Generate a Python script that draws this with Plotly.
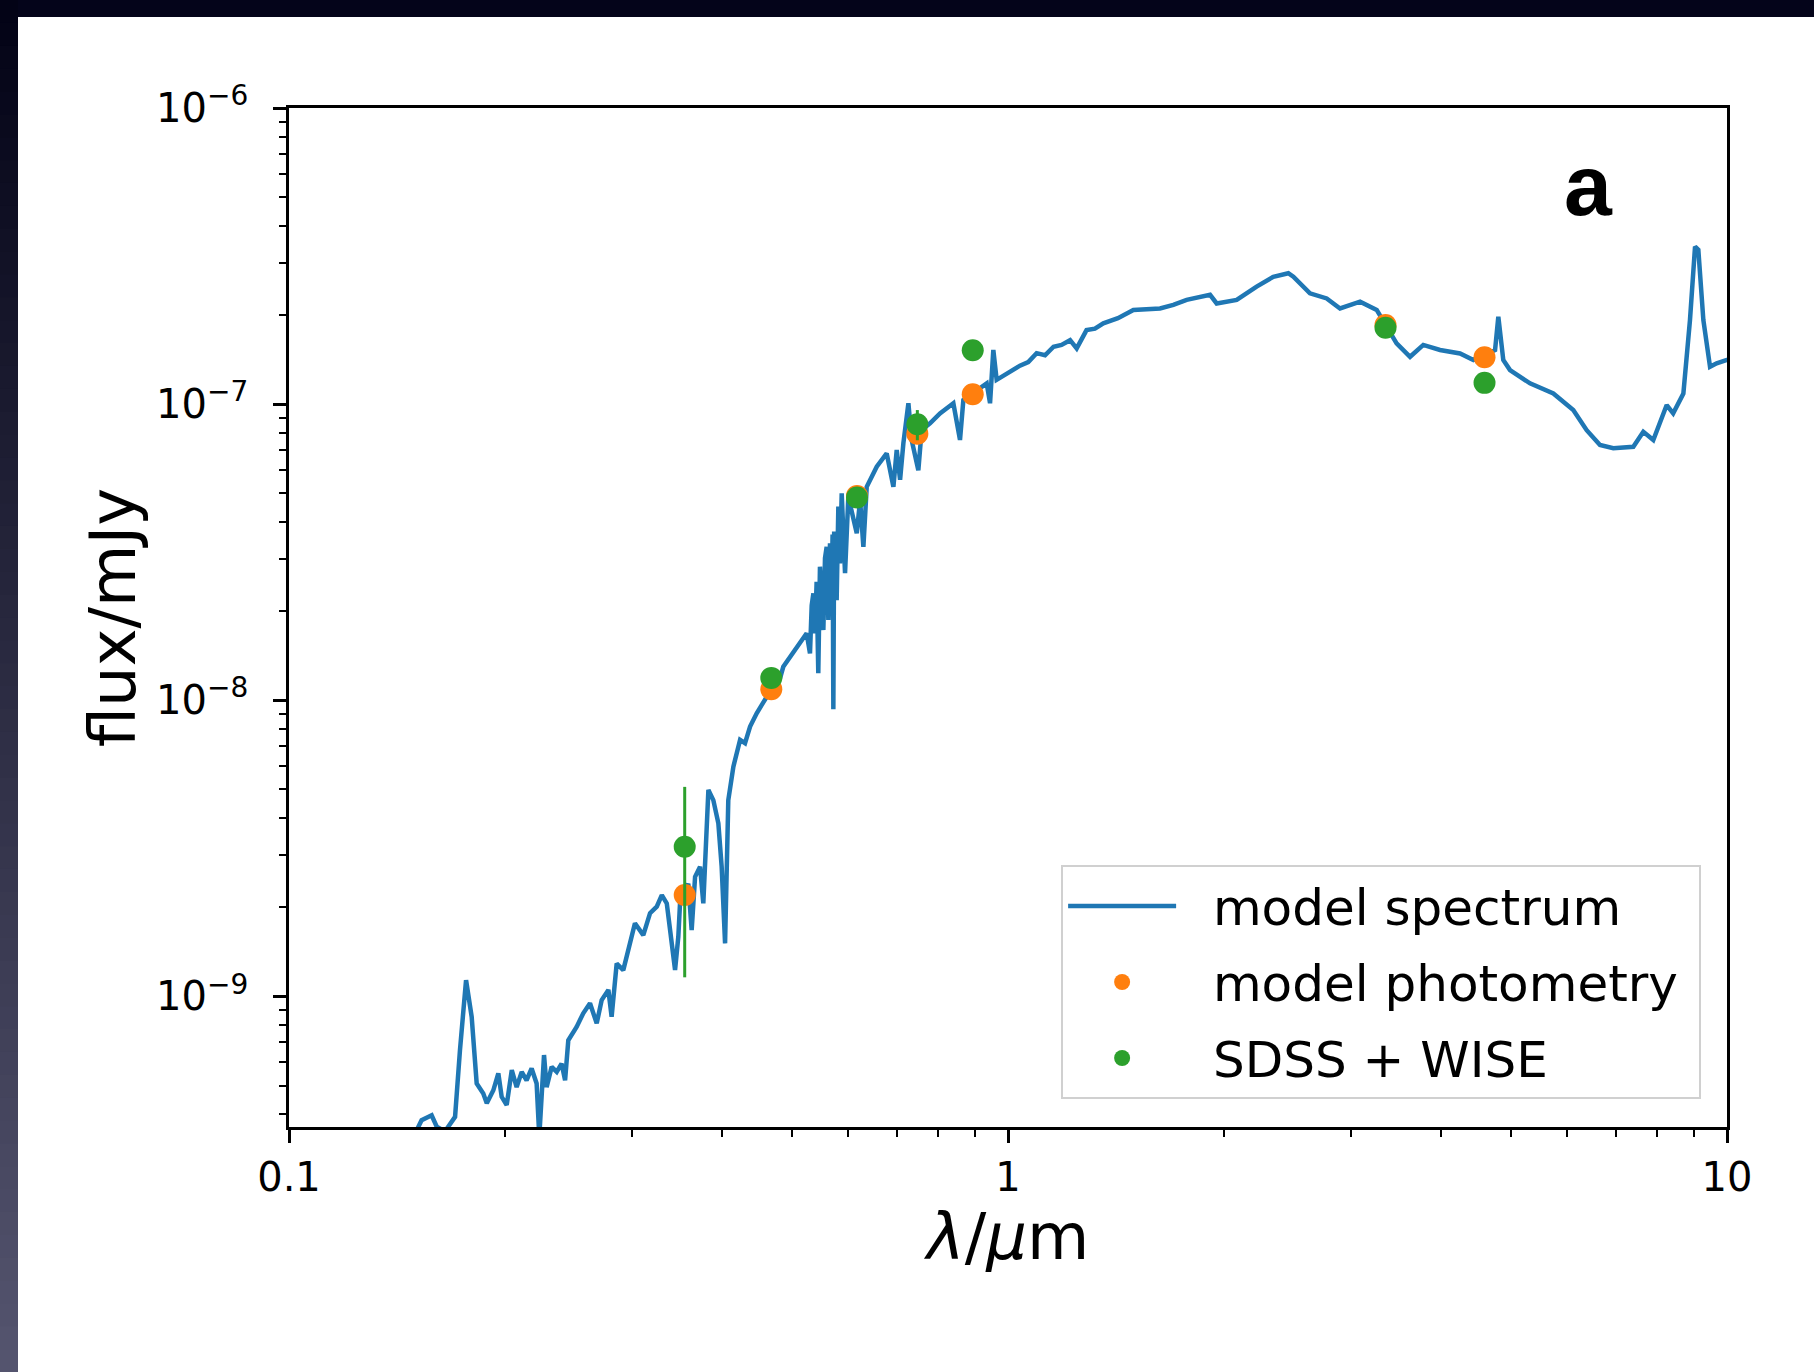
import plotly.graph_objects as go

# ---------------- data ----------------
spec_wavelength = [
    0.1505, 0.1529, 0.1579, 0.1605, 0.1648, 0.1702, 0.1729, 0.1763, 0.1795, 0.1824,
    0.1863, 0.1884, 0.1924, 0.1955, 0.1976, 0.2008, 0.2041, 0.2073, 0.2107, 0.2140,
    0.2175, 0.2210, 0.2229, 0.2245, 0.2263, 0.2282, 0.2319, 0.2357, 0.2394, 0.2421,
    0.2446, 0.2512, 0.2566, 0.2622, 0.2679, 0.2722, 0.2781, 0.2810, 0.2856, 0.2917,
    0.2964, 0.3028, 0.3110, 0.3178, 0.3247, 0.3300, 0.3353, 0.3407, 0.3443, 0.3479,
    0.3498, 0.3592, 0.3631, 0.3671, 0.3730, 0.3769, 0.3831, 0.3892, 0.3955, 0.3997,
    0.4041, 0.4083, 0.4150, 0.4240, 0.4308, 0.4378, 0.4472, 0.4618, 0.4819, 0.4869,
    0.5082, 0.5248, 0.5304, 0.5333, 0.5362, 0.5390, 0.5418, 0.5447, 0.5476, 0.5507,
    0.5536, 0.5565, 0.5595, 0.5625, 0.5655, 0.5686, 0.5702, 0.5716, 0.5731, 0.5747,
    0.5777, 0.5808, 0.5839, 0.5871, 0.5934, 0.5997, 0.6161, 0.6227, 0.6293, 0.6361,
    0.6568, 0.6781, 0.6928, 0.7002, 0.7078, 0.7153, 0.7269, 0.7345, 0.7504, 0.7584,
    0.7790, 0.8043, 0.8395, 0.8575, 0.8668, 0.9045, 0.9340, 0.9441, 0.9541, 0.9643,
    1.0065, 1.039, 1.067, 1.096, 1.126, 1.157, 1.187, 1.220, 1.246, 1.286,
    1.321, 1.357, 1.422, 1.494, 1.627, 1.698, 1.772, 1.910, 1.951, 2.080,
    2.217, 2.339, 2.454, 2.494, 2.630, 2.775, 2.896, 3.088, 3.257, 3.344,
    3.471, 3.624, 3.781, 3.989, 4.253, 4.439, 4.758, 4.808, 4.885, 4.991,
    5.321, 5.734, 6.112, 6.380, 6.658, 6.948, 7.408, 7.649, 7.898, 8.244,
    8.417, 8.696, 8.882, 9.027, 9.123, 9.271, 9.471, 9.674, 9.99, 10.7,
]
spec_flux = [
    3.53e-10, 3.82e-10, 3.97e-10, 3.63e-10, 3.50e-10, 3.92e-10, 6.59e-10, 1.135e-9, 8.53e-10, 5.08e-10,
    4.70e-10, 4.36e-10, 4.82e-10, 5.50e-10, 4.58e-10, 4.30e-10, 5.64e-10, 4.94e-10, 5.56e-10, 5.21e-10,
    5.71e-10, 5.08e-10, 3.36e-10, 4.70e-10, 6.34e-10, 4.94e-10, 5.78e-10, 5.56e-10, 5.93e-10, 5.21e-10,
    7.11e-10, 7.89e-10, 8.77e-10, 9.48e-10, 8.11e-10, 9.72e-10, 1.052e-9, 8.53e-10, 1.291e-9, 1.227e-9,
    1.432e-9, 1.766e-9, 1.611e-9, 1.910e-9, 2.009e-9, 2.198e-9, 2.061e-9, 1.510e-9, 1.227e-9, 1.589e-9,
    2.061e-9, 2.404e-9, 1.675e-9, 2.535e-9, 2.742e-9, 2.061e-9, 4.98e-9, 4.60e-9, 3.84e-9, 2.742e-9,
    1.510e-9, 4.60e-9, 5.97e-9, 7.35e-9, 7.16e-9, 8.15e-9, 9.04e-9, 1.028e-8, 1.186e-8, 1.297e-8,
    1.517e-8, 1.683e-8, 1.439e-8, 2.089e-8, 2.296e-8, 1.683e-8, 2.512e-8, 1.233e-8, 2.825e-8, 1.995e-8,
    1.726e-8, 3.020e-8, 3.296e-8, 1.866e-8, 3.388e-8, 2.399e-8, 3.631e-8, 9.33e-9, 3.715e-8, 2.512e-8,
    2.178e-8, 4.508e-8, 2.897e-8, 5.000e-8, 2.685e-8, 4.864e-8, 3.664e-8, 4.742e-8, 3.296e-8, 5.26e-8,
    6.15e-8, 6.82e-8, 5.26e-8, 7.00e-8, 5.55e-8, 7.38e-8, 1.007e-7, 7.57e-8, 5.98e-8, 8.18e-8,
    8.61e-8, 9.31e-8, 1.007e-7, 7.57e-8, 1.033e-7, 1.117e-7, 1.175e-7, 1.007e-7, 1.524e-7, 1.208e-7,
    1.288e-7, 1.349e-7, 1.387e-7, 1.486e-7, 1.462e-7, 1.563e-7, 1.585e-7, 1.644e-7, 1.542e-7, 1.778e-7,
    1.799e-7, 1.875e-7, 1.950e-7, 2.080e-7, 2.104e-7, 2.163e-7, 2.249e-7, 2.339e-7, 2.188e-7, 2.249e-7,
    2.495e-7, 2.692e-7, 2.767e-7, 2.692e-7, 2.366e-7, 2.275e-7, 2.104e-7, 2.218e-7, 2.080e-7, 1.862e-7,
    1.603e-7, 1.445e-7, 1.585e-7, 1.524e-7, 1.483e-7, 1.409e-7, 1.524e-7, 1.972e-7, 1.409e-7, 1.303e-7,
    1.175e-7, 1.086e-7, 9.55e-8, 8.17e-8, 7.28e-8, 7.10e-8, 7.18e-8, 8.07e-8, 7.57e-8, 9.93e-8,
    9.31e-8, 1.086e-7, 1.923e-7, 3.404e-7, 3.319e-7, 1.923e-7, 1.337e-7, 1.374e-7, 1.409e-7, 1.41e-7,
]

band_wavelength = [0.3551, 0.4686, 0.6166, 0.7480, 0.8932, 3.35, 4.60]
model_phot_flux = [2.20e-9, 1.09e-8, 4.90e-8, 7.95e-8, 1.08e-7, 1.85e-7, 1.44e-7]
obs_flux = [3.20e-9, 1.19e-8, 4.84e-8, 8.55e-8, 1.52e-7, 1.81e-7, 1.18e-7]
obs_err_plus = [1.90e-9, 6.0e-10, 2.0e-9, 1.0e-8, 4.0e-9, 4.0e-9, 4.0e-9]
obs_err_minus = [2.04e-9, 6.0e-10, 2.0e-9, 1.0e-8, 4.0e-9, 4.0e-9, 4.0e-9]

series_names = ["model spectrum", "model photometry", "SDSS + WISE"]
x_tick_vals = [0.1, 1, 10]
x_tick_text = ["0.1", "1", "10"]
y_tick_vals = [1e-9, 1e-8, 1e-7, 1e-6]
y_tick_text = ["10<sup>−9</sup>", "10<sup>−8</sup>", "10<sup>−7</sup>", "10<sup>−6</sup>"]
x_minor_vals = [0.2, 0.3, 0.4, 0.5, 0.6, 0.7, 0.8, 0.9, 2, 3, 4, 5, 6, 7, 8, 9]
y_minor_vals = [m * d for d in (1e-10, 1e-9, 1e-8, 1e-7) for m in range(2, 10)]

BLUE, ORANGE, GREEN = "#1f77b4", "#ff7f0e", "#2ca02c"
FONT = "DejaVu Sans"
PAD = "\u00a0\u00a0"
TAIL = "\u00a0"

fig = go.Figure()
fig.add_trace(go.Scatter(
    x=spec_wavelength, y=spec_flux, mode="lines", name=PAD + series_names[0] + TAIL,
    legendgroup="g1", line=dict(color=BLUE, width=4.5),
))
fig.add_trace(go.Scatter(
    x=band_wavelength, y=model_phot_flux, mode="markers", name=PAD + series_names[1] + TAIL,
    legendgroup="g2", marker=dict(color=ORANGE, size=22, line=dict(width=0)),
))
fig.add_trace(go.Scatter(
    x=band_wavelength, y=obs_flux, mode="markers", name=PAD + series_names[2] + TAIL,
    legendgroup="g3", marker=dict(color=GREEN, size=22, line=dict(width=0)),
    error_y=dict(type="data", array=obs_err_plus, arrayminus=obs_err_minus,
                 color=GREEN, thickness=3, width=0),
))

# decorative dark border of the original photo
W, H = 1814, 1372
L, R, T, B = 289, 1727, 108, 1127
def px_x(p):
    return (p - L) / (R - L)
def px_y(p):
    return (B - p) / (B - T)

shapes = [dict(type="rect", xref="paper", yref="paper", x0=px_x(0), x1=px_x(W),
               y0=px_y(17), y1=px_y(0), fillcolor="#04041a", line=dict(width=0), layer="above")]
c_top, c_bot = (3, 3, 22), (84, 84, 110)
n = 60
for i in range(n):
    t = i / (n - 1)
    c = tuple(round(a + (b - a) * t) for a, b in zip(c_top, c_bot))
    shapes.append(dict(type="rect", xref="paper", yref="paper", x0=px_x(0), x1=px_x(18),
                       y0=px_y(min(H, H * (i + 1) / n + 2)), y1=px_y(H * i / n),
                       fillcolor="rgb(%d,%d,%d)" % c, line=dict(width=0), layer="above"))

fig.update_layout(
    width=W, height=H,
    margin=dict(l=L, r=W - R, t=T, b=H - B),
    paper_bgcolor="white", plot_bgcolor="white",
    font=dict(family=FONT, color="black", size=40),
    showlegend=True,
    legend=dict(
        x=0.982, y=0.0275, xanchor="right", yanchor="bottom",
        bgcolor="rgba(255,255,255,0.8)", bordercolor="#d0d0d0", borderwidth=2,
        font=dict(size=50, family=FONT, color="black"),
        itemwidth=108, traceorder="grouped", tracegroupgap=8,
    ),
    shapes=shapes,
    annotations=[dict(text="<b>a</b>", xref="paper", yref="paper", x=0.904, y=0.924,
                      showarrow=False, font=dict(family="Liberation Sans", size=86, color="black"),
                      xanchor="center", yanchor="middle")],
)
fig.update_xaxes(
    type="log", range=[-1, 1], showgrid=False, zeroline=False,
    showline=True, linecolor="black", linewidth=2.5, mirror=True,
    ticks="outside", ticklen=13, tickwidth=2.5, tickcolor="black",
    tickmode="array", tickvals=x_tick_vals, ticktext=x_tick_text,
    tickfont=dict(size=40, family=FONT),
    minor=dict(ticks="outside", ticklen=7, tickwidth=2, tickcolor="black",
               tickmode="array", tickvals=x_minor_vals, showgrid=False),
    title=dict(text="<i>λ</i>/<i>μ</i>m", font=dict(size=64, family=FONT), standoff=16),
)
fig.update_yaxes(
    type="log", range=[-9.441, -6], showgrid=False, zeroline=False,
    showline=True, linecolor="black", linewidth=2.5, mirror=True,
    ticks="outside", ticklen=13, tickwidth=2.5, tickcolor="black",
    tickmode="array", tickvals=y_tick_vals, ticktext=y_tick_text,
    tickfont=dict(size=40, family=FONT), ticklabelstandoff=17,
    minor=dict(ticks="outside", ticklen=7, tickwidth=2, tickcolor="black",
               tickmode="array", tickvals=y_minor_vals, showgrid=False),
    title=dict(text="flux/mJy", font=dict(size=64, family=FONT), standoff=0),
)

fig.write_html("out.html")
